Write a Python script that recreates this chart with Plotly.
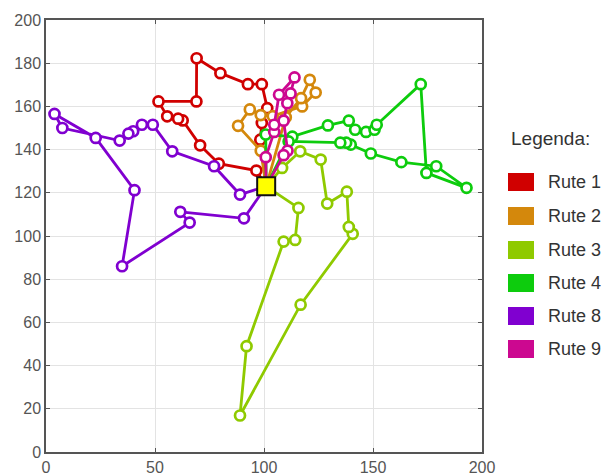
import plotly.graph_objects as go

depot_x = [101]
depot_y = [123]

route_names = ["Rute 1", "Rute 2", "Rute 3", "Rute 4", "Rute 8", "Rute 9"]
route_colors = ["#d00000", "#d4880c", "#8fca00", "#0dcc0d", "#8000d0", "#cc0890"]

r1_x = [101, 96.5, 79.3, 70.7, 62.7, 60.6, 55.6, 51.6, 69.0, 69.1, 80.0, 92.6, 99.0, 101.5, 99.0, 98.3, 101]
r1_y = [123, 130.3, 133.5, 142.0, 153.5, 154.3, 155.4, 162.3, 162.3, 182.3, 175.4, 170.3, 170.3, 159.2, 152.3, 144.6, 123]

r2_x = [101, 98.5, 88.1, 93.5, 98.5, 104.0, 117.5, 123.7, 121.0, 117.0, 110.0, 101]
r2_y = [123, 139.5, 151.0, 158.6, 156.0, 155.5, 160.0, 166.4, 172.3, 163.8, 155.0, 123]

r3_x = [101, 115.8, 114.3, 109.0, 92.0, 89.0, 116.8, 140.7, 138.9, 138.0, 129.0, 126.0, 116.6, 108.3, 101]
r3_y = [123, 113.0, 98.2, 97.4, 49.0, 16.9, 68.2, 101.0, 104.2, 120.5, 115.0, 135.4, 139.2, 131.5, 123]

r4_x = [101, 100.8, 113.0, 129.3, 138.9, 141.8, 146.8, 150.7, 151.7, 171.9, 174.5, 192.9, 179.0, 163.0, 149.0, 139.8, 137.7, 135.0, 111.3, 101]
r4_y = [123, 147.0, 146.0, 151.2, 153.4, 149.2, 148.2, 149.2, 151.5, 170.3, 129.2, 122.3, 132.3, 134.2, 138.2, 142.3, 143.2, 143.2, 143.8, 123]

r8_x = [101, 89.0, 77.1, 57.9, 49.0, 44.0, 40.0, 37.8, 33.8, 7.5, 3.9, 22.8, 40.6, 34.9, 65.9, 61.6, 90.8, 101]
r8_y = [123, 119.2, 132.3, 139.2, 151.5, 151.5, 148.5, 147.4, 144.2, 150.0, 156.5, 145.4, 121.2, 86.0, 106.2, 111.2, 108.2, 123]

r9_x = [101, 100.8, 104.7, 104.7, 106.9, 114.0, 112.2, 110.7, 109.0, 110.8, 109.0, 101]
r9_y = [123, 136.5, 148.2, 151.5, 165.4, 173.4, 166.0, 161.5, 153.4, 139.5, 137.4, 123]

routes_x = [r1_x, r2_x, r3_x, r4_x, r8_x, r9_x]
routes_y = [r1_y, r2_y, r3_y, r4_y, r8_y, r9_y]

x_ticks = [0, 50, 100, 150, 200]
y_ticks = [0, 20, 40, 60, 80, 100, 120, 140, 160, 180, 200]

fig = go.Figure()
for name, col, xs, ys in zip(route_names, route_colors, routes_x, routes_y):
    fig.add_trace(go.Scatter(
        x=xs, y=ys, mode="lines", name=name, showlegend=False,
        line=dict(color=col, width=2.8)))
    fig.add_trace(go.Scatter(
        x=xs[1:-1], y=ys[1:-1], mode="markers", showlegend=False,
        marker=dict(symbol="circle", size=10, color="white",
                    line=dict(color=col, width=2.7))))

fig.add_trace(go.Scatter(
    x=depot_x, y=depot_y, mode="markers", showlegend=False,
    marker=dict(symbol="square", size=18, color="#ffff00",
                line=dict(color="#111111", width=2))))

# legend drawn manually
L, R, T, B = 46, 482, 20, 452
def px2paper(px, py):
    return (px - L) / (R - L), (B - py) / (B - T)

lx, ly = px2paper(509, 139)
fig.add_annotation(x=lx, y=ly, xref="paper", yref="paper", text="Legenda:",
                   showarrow=False, xanchor="left", yanchor="middle",
                   font=dict(family="Liberation Sans, Arial", size=19, color="#333333"))
item_py = [182, 216, 250, 283, 316, 349]
for name, col, py in zip(route_names, route_colors, item_py):
    x0, y0 = px2paper(508, py + 9)
    x1, y1 = px2paper(534, py - 9)
    fig.add_shape(type="rect", xref="paper", yref="paper", x0=x0, y0=y0, x1=x1, y1=y1,
                  fillcolor=col, line=dict(color=col, width=0))
    tx, ty = px2paper(546, py)
    fig.add_annotation(x=tx, y=ty, xref="paper", yref="paper", text=name,
                       showarrow=False, xanchor="left", yanchor="middle",
                       font=dict(family="Liberation Sans, Arial", size=18, color="#333333"))

axis_common = dict(showgrid=True, gridcolor="#e3e3e3", gridwidth=1, automargin=False,
                   showline=True, linecolor="#555555", linewidth=1.5, mirror="ticks",
                   ticks="inside", ticklen=4, tickcolor="#555555", zeroline=False,
                   tickfont=dict(family="Liberation Sans, Arial", size=16, color="#555555"))
fig.update_xaxes(range=[0, 200], tickvals=x_ticks, **axis_common)
fig.update_yaxes(range=[0, 200], tickvals=y_ticks, **axis_common)

fig.update_layout(width=608, height=476, margin=dict(l=46, r=126, t=20, b=24),
                  plot_bgcolor="white", paper_bgcolor="white", showlegend=False)

fig.write_html("out.html", config={"displayModeBar": False},
               post_script="document.body.style.margin='0';document.body.style.overflow='hidden';")
